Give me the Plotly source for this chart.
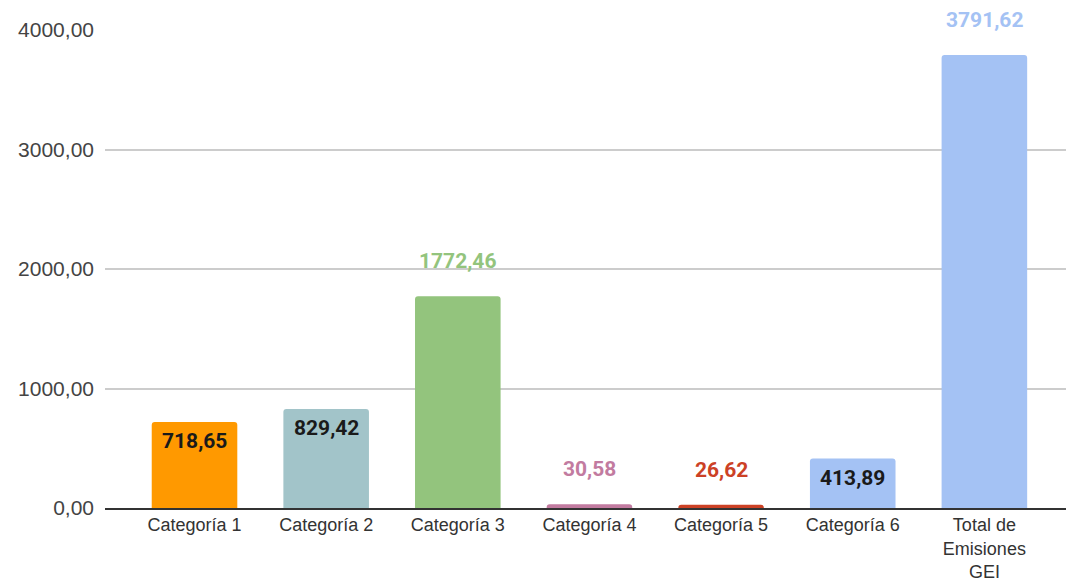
import plotly.graph_objects as go

categorias = ["Categoría 1", "Categoría 2", "Categoría 3", "Categoría 4",
              "Categoría 5", "Categoría 6", "Total de<br>Emisiones<br>GEI"]
valores = [718.65, 829.42, 1772.46, 30.58, 26.62, 413.89, 3791.62]
colores = ["#ff9900", "#a2c4c9", "#93c47d", "#c27ba0", "#cc4125", "#a4c2f4", "#a4c2f4"]
# etiqueta dentro de la barra (negra) o encima (del color de la barra)
dentro = [True, True, False, False, False, True, False]
tick_vals = [0, 1000, 2000, 3000, 4000]
tick_text = ["0,00", "1000,00", "2000,00", "3000,00", "4000,00"]


def fmt(v):
    return f"{v:.2f}".replace(".", ",")


fig = go.Figure()
fig.add_trace(go.Bar(
    x=categorias, y=valores,
    marker=dict(color=colores, line=dict(width=0), cornerradius=3),
    width=0.65,
))

for cat, val, col, ins in zip(categorias, valores, colores, dentro):
    fig.add_annotation(
        x=cat, y=val, text=f"<b>{fmt(val)}</b>", showarrow=False,
        yanchor="middle", yshift=-19 if ins else 35,
        font=dict(family="Roboto", size=21, color="#1a1a1a" if ins else col),
    )

fig.update_layout(
    width=1066, height=583,
    margin=dict(l=105, r=0, t=30, b=75, autoexpand=False),
    paper_bgcolor="white", plot_bgcolor="white",
    showlegend=False,
    font=dict(family="Liberation Sans, Arial", color="#444444"),
)
fig.update_xaxes(
    range=[-0.68, 6.62], showgrid=False, automargin=False,
    showline=True, linecolor="#333333", linewidth=1.5,
    tickfont=dict(size=18, color="#333333"), ticks="", ticklen=0,
)
fig.update_yaxes(
    range=[0, 4000], tickvals=tick_vals, ticktext=tick_text, automargin=False,
    showgrid=True, gridcolor="#cccccc", gridwidth=1.5, zeroline=False,
    tickfont=dict(size=21, color="#444444"), ticklabelstandoff=10,
)

fig.write_html("out.html", config={"displayModeBar": False},
               post_script="document.body.style.margin='0';")
